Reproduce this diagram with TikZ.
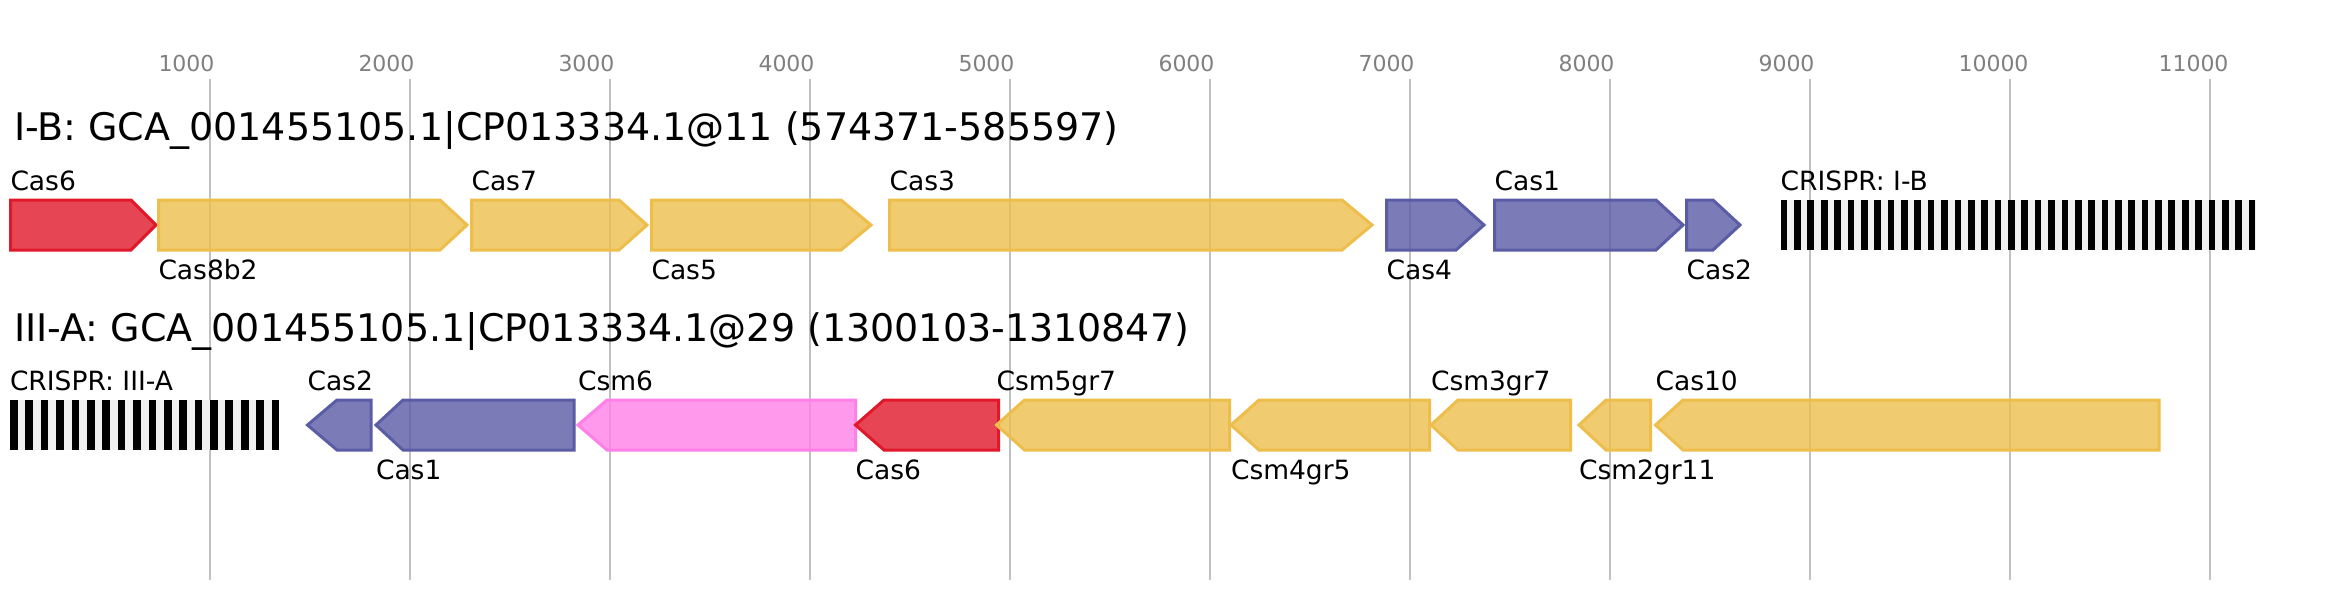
\documentclass[tikz,border=0pt]{standalone}
\usepackage{fontspec}
\setmainfont{DejaVu Sans}
\definecolor{cred}{HTML}{E0182A}
\definecolor{cyel}{HTML}{EEBE4C}
\definecolor{cblu}{HTML}{5A5CA5}
\definecolor{cpnk}{HTML}{FF80E6}
\definecolor{gridc}{HTML}{C0C0C0}
\definecolor{tickc}{HTML}{808080}
\definecolor{crbg}{HTML}{F0F0F0}
\newcommand{\generight}[5]{%
  \draw[gene,draw=#1,fill=#1] (#2,#5-25) -- (#3,#5-25) -- (#4,#5) -- (#3,#5+25) -- (#2,#5+25) -- cycle;}
\newcommand{\geneleft}[5]{%
  \draw[gene,draw=#1,fill=#1] (#2,#5) -- (#3,#5-25) -- (#4,#5-25) -- (#4,#5+25) -- (#3,#5+25) -- cycle;}
\tikzset{
  gene/.style={line width=3pt, line join=miter, fill opacity=0.8},
  gridline/.style={draw=gridc, line width=2pt},
  ticklab/.style={anchor=base west, inner sep=0pt, outer sep=0pt, text=tickc, font=\fontsize{22}{24}\selectfont},
  genelab/.style={anchor=base west, inner sep=0pt, outer sep=0pt, font=\fontsize{26.5}{29}\selectfont},
  titlelab/.style={anchor=base west, inner sep=0pt, outer sep=0pt, font=\fontsize{38}{42}\selectfont},
}
\begin{document}
\begin{tikzpicture}[x=1pt,y=-1pt]
\useasboundingbox[fill=white] (0,0) rectangle (2345,600);
% grid and ticks
\foreach \k in {1,...,11}{
  \draw[gridline] (10+200*\k,79) -- (10+200*\k,580);
  \pgfmathtruncatemacro{\lab}{1000*\k}
  \node[ticklab] (tick\k) at (10+200*\k-51.5,71) {\lab};
}
% titles
\node[titlelab] (title1) at (14,140) {I-B: GCA\_001455105.1|CP013334.1@11 (574371-585597)};
\node[titlelab] (title2) at (14,341) {III-A: GCA\_001455105.1|CP013334.1@29 (1300103-1310847)};
% track 1
\generight{cred}{10.5}{131}{156}{225}
\generight{cyel}{158.5}{440}{467}{225}
\generight{cyel}{471.5}{619}{647}{225}
\generight{cyel}{651.5}{841}{871}{225}
\generight{cyel}{889.5}{1342}{1372}{225}
\generight{cblu}{1386.5}{1456}{1484}{225}
\generight{cblu}{1494.5}{1656}{1683}{225}
\generight{cblu}{1686.5}{1713}{1740}{225}
\fill[crbg] (1780.7,200) rectangle (2255.7,250);
\foreach \i in {0,...,35}{\fill[black] (1780.7+\i*13.371,200) rectangle ++(6.686,50);}
\node[genelab] (l1a) at (10.5,190) {Cas6};
\node[genelab] (l1b) at (471.5,190) {Cas7};
\node[genelab] (l1c) at (889.5,190) {Cas3};
\node[genelab] (l1d) at (1494.5,190) {Cas1};
\node[genelab] (l1e) at (1780.7,190) {CRISPR: I-B};
\node[genelab] (l1f) at (158.5,279) {Cas8b2};
\node[genelab] (l1g) at (651.5,279) {Cas5};
\node[genelab] (l1h) at (1386.5,279) {Cas4};
\node[genelab] (l1i) at (1686.5,279) {Cas2};
% track 2
\fill[crbg] (10,400) rectangle (279.3,450);
\foreach \i in {0,...,17}{\fill[black] (10+\i*15.39,400) rectangle ++(7.69,50);}
\geneleft{cblu}{307.5}{337}{371}{425}
\geneleft{cblu}{376}{403}{574}{425}
\geneleft{cpnk}{578}{607}{855.5}{425}
\geneleft{cred}{855.5}{884}{998.5}{425}
\geneleft{cyel}{996.5}{1024.5}{1229.5}{425}
\geneleft{cyel}{1231}{1259}{1429.5}{425}
\geneleft{cyel}{1431}{1458}{1570.5}{425}
\geneleft{cyel}{1579}{1606}{1650.5}{425}
\geneleft{cyel}{1655.5}{1683}{2159}{425}
\node[genelab] (l2a) at (10,390) {CRISPR: III-A};
\node[genelab] (l2b) at (307.5,390) {Cas2};
\node[genelab] (l2c) at (578,390) {Csm6};
\node[genelab] (l2d) at (996.5,390) {Csm5gr7};
\node[genelab] (l2e) at (1431,390) {Csm3gr7};
\node[genelab] (l2f) at (1655.5,390) {Cas10};
\node[genelab] (l2g) at (376,479) {Cas1};
\node[genelab] (l2h) at (855.5,479) {Cas6};
\node[genelab] (l2i) at (1231,479) {Csm4gr5};
\node[genelab] (l2j) at (1579,479) {Csm2gr11};
\end{tikzpicture}
\end{document}
